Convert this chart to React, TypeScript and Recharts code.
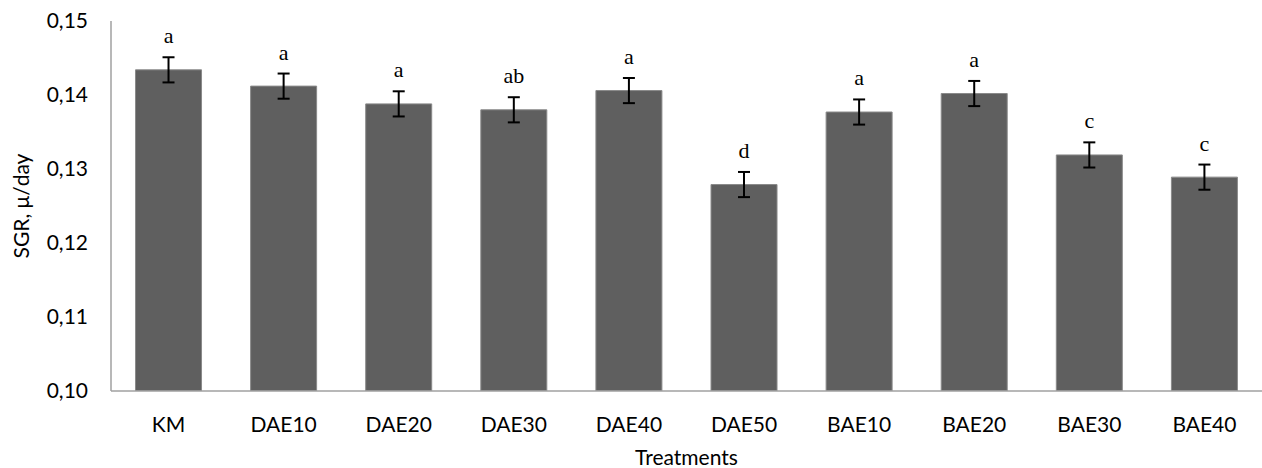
import React from 'react';
import { BarChart, Bar, XAxis, YAxis, ErrorBar, LabelList, Label } from 'recharts';

const categories = ['KM', 'DAE10', 'DAE20', 'DAE30', 'DAE40', 'DAE50', 'BAE10', 'BAE20', 'BAE30', 'BAE40'];
const sgrValues = [0.1434, 0.1412, 0.1388, 0.1380, 0.1406, 0.1279, 0.1377, 0.1402, 0.1319, 0.1289];
const sgrErrors = [0.0017, 0.0017, 0.0017, 0.0017, 0.0017, 0.0017, 0.0017, 0.0017, 0.0017, 0.0017];
const groupLetters = ['a', 'a', 'a', 'ab', 'a', 'd', 'a', 'a', 'c', 'c'];
const yTicks = [0.10, 0.11, 0.12, 0.13, 0.14, 0.15];
const yMin = 0.10;
const yMax = 0.15;

const data = categories.map((name, i) => ({
  name,
  sgr: sgrValues[i],
  err: sgrErrors[i],
  letter: groupLetters[i],
}));

const sansFont = 'Lato, "Open Sans", sans-serif';

const LetterLabel = (props: any) => {
  const { x, y, width, height, index } = props;
  const v = sgrValues[index];
  const e = sgrErrors[index];
  const pxPerUnit = height / (v - yMin);
  const errTop = y - e * pxPerUnit;
  return (
    <text
      x={x + width / 2}
      y={errTop - 14}
      textAnchor="middle"
      fontFamily='"Liberation Serif", "DejaVu Serif", serif'
      fontSize={22}
      fill="#000"
    >
      {groupLetters[index]}
    </text>
  );
};

const YTitle = (props: any) => {
  const vb = props.viewBox || {};
  const cy = vb.y + vb.height / 2;
  const cx = 20;
  return (
    <text
      x={cx}
      y={cy}
      transform={`rotate(-90, ${cx}, ${cy})`}
      textAnchor="middle"
      dominantBaseline="central"
      fontFamily={sansFont}
      fontSize={21}
      fill="#000"
    >
      SGR, μ/day
    </text>
  );
};

export default function App() {
  return (
    <div style={{ position: 'absolute', left: 0, top: 0, width: 1262, height: 468, background: '#fff' }}>
      <BarChart
        width={1262}
        height={468}
        data={data}
        margin={{ top: 21, right: 0, bottom: 0, left: 0 }}
        barCategoryGap="21.3%"
      >
        <XAxis
          dataKey="name"
          height={77}
          tickLine={false}
          tickSize={0}
          tickMargin={26}
          axisLine={{ stroke: '#a0a0a0', strokeWidth: 1.5 }}
          tick={{ fontFamily: sansFont, fontSize: 21, fill: '#000' }}
          interval={0}
        >
          <Label
            value="Treatments"
            position="insideBottom"
            offset={3}
            style={{ fontFamily: sansFont, fontSize: 21, fill: '#000' }}
          />
        </XAxis>
        <YAxis
          width={111}
          domain={[yMin, yMax]}
          ticks={yTicks}
          allowDataOverflow
          tickLine={false}
          tickSize={0}
          tickMargin={23}
          axisLine={{ stroke: '#a0a0a0', strokeWidth: 1.5 }}
          tick={{ fontFamily: sansFont, fontSize: 21, fill: '#000' }}
          tickFormatter={(v: number) => v.toFixed(2).replace('.', ',')}
        >
          <Label content={<YTitle />} />
        </YAxis>
        <Bar dataKey="sgr" fill="#5f5f5f" stroke="#8a8a8a" strokeWidth={1} isAnimationActive={false}>
          <ErrorBar dataKey="err" width={6} stroke="#000" strokeWidth={2} direction="y" />
          <LabelList dataKey="letter" content={<LetterLabel />} />
        </Bar>
      </BarChart>
    </div>
  );
}
